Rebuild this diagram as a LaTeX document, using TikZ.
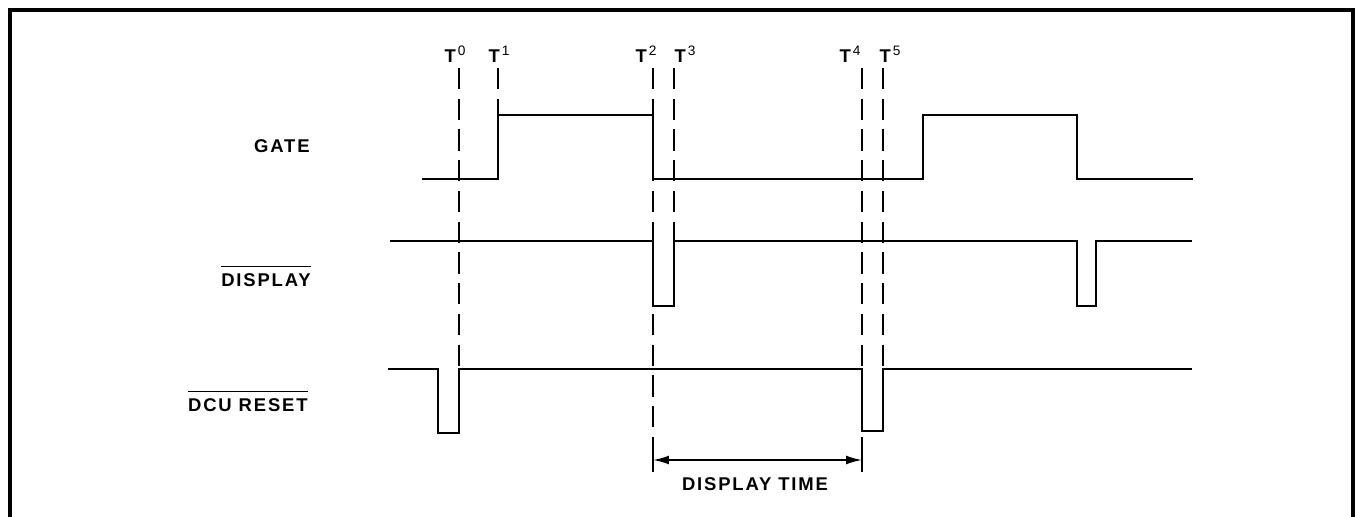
\documentclass[tikz,border=0pt]{standalone}
\usepackage{fontspec}
\setmainfont{Liberation Sans}[LetterSpace=10]
\usetikzlibrary{arrows.meta}
\newcommand{\tsig}[1]{T\hspace{1.2pt}\raisebox{0.75ex}{\fontsize{7.8}{8}\selectfont\mdseries #1}}
\begin{document}
\begin{tikzpicture}[x=0.02cm,y=-0.02cm,
    wave/.style={line width=1pt},
    tline/.style={line width=1.1pt,dash pattern=on 12pt off 5.5pt},
    lbl/.style={font=\fontsize{10.5}{12}\selectfont\bfseries,inner sep=0pt}]
    \useasboundingbox (0,0) rectangle (1356,517);
    \draw[line width=2.2pt] (10,517) -- (10,10) -- (1353,10) -- (1353,517);
    \node[lbl,anchor=base] (t0) at (455,63) {\tsig{0}};
    \node[lbl,anchor=base] (t1) at (499,63) {\tsig{1}};
    \node[lbl,anchor=base] (t2) at (646,63) {\tsig{2}};
    \node[lbl,anchor=base] (t3) at (685,63) {\tsig{3}};
    \node[lbl,anchor=base] (t4) at (850,63) {\tsig{4}};
    \node[lbl,anchor=base] (t5) at (890,63) {\tsig{5}};
    \draw[tline] (459,68) -- (459,369);
    \draw[tline] (498,68) -- (498,115);
    \draw[tline] (653,68) -- (653,472);
    \draw[tline] (674,68) -- (674,241);
    \draw[tline] (862,68) -- (862,472);
    \draw[tline] (883,68) -- (883,369);
    \node[lbl,anchor=base east] (gate) at (310,153) {GATE};
    \node[lbl,anchor=base east] (disp) at (311,286) {DISPLAY};
    \node[lbl,anchor=base east] (dcu) at (308,411) {DCU RESET};
    \draw[wave] ([yshift=3.5pt]disp.north west) -- ([yshift=3.5pt]disp.north east);
    \draw[wave] ([yshift=3.5pt]dcu.north west) -- ([yshift=3.5pt]dcu.north east);
    \draw[wave] (422,179) -- (498,179) -- (498,115) -- (653,115) -- (653,179) -- (923,179)
        -- (923,115) -- (1077,115) -- (1077,179) -- (1193,179);
    \draw[wave] (390,241) -- (653,241) -- (653,306) -- (674,306) -- (674,241) -- (1077,241)
        -- (1077,306) -- (1096,306) -- (1096,241) -- (1192,241);
    \draw[wave] (388,369) -- (438,369) -- (438,433) -- (459,433) -- (459,369) -- (862,369)
        -- (862,431) -- (883,431) -- (883,369) -- (1192,369);
    \draw[wave] (653,452) -- (653,472);
    \draw[wave] (862,452) -- (862,472);
    \draw[wave,{Latex[length=9pt,width=5pt]}-{Latex[length=9pt,width=5pt]}] (653,460) -- (862,460);
    \node[lbl,anchor=base] (dtime) at (755,490) {DISPLAY TIME};
\end{tikzpicture}
\end{document}
